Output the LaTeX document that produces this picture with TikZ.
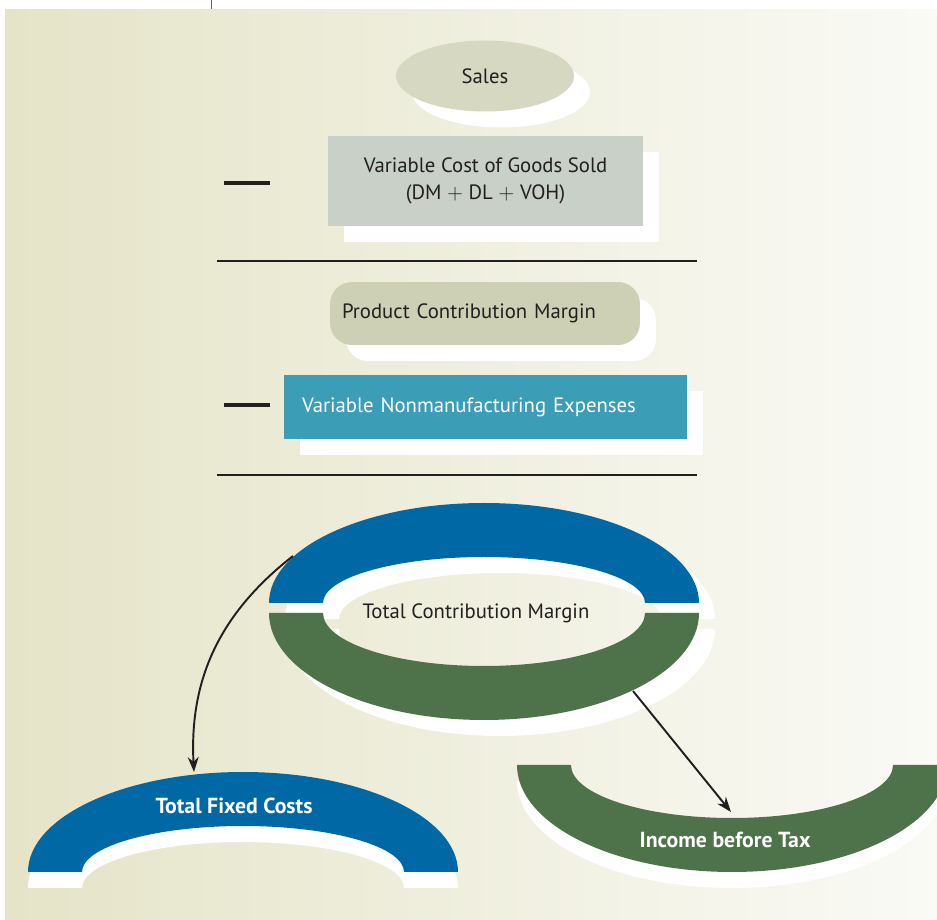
\documentclass[tikz,border=0pt]{standalone}
\usepackage{fontspec}
\setmainfont{PT Sans}
\usetikzlibrary{shapes.geometric}
\usetikzlibrary{shadows}
\usetikzlibrary{arrows.meta}
\pgfdeclarelayer{bglayer}
\pgfdeclarelayer{edgelayer}
\pgfdeclarelayer{nodelayer}
\pgfsetlayers{bglayer,main,edgelayer,nodelayer}
\definecolor{ink}{HTML}{231F20}
\definecolor{paperleft}{HTML}{E5E4C8}
\definecolor{paperright}{HTML}{FAFAF6}
\definecolor{salesfill}{HTML}{D6D8C2}
\definecolor{costfill}{HTML}{C8D0C8}
\definecolor{marginfill}{HTML}{CDD0B5}
\definecolor{expfill}{HTML}{3C9DB6}
\definecolor{ringblue}{HTML}{0068A5}
\definecolor{ringgreen}{HTML}{4E7249}
\tikzstyle{whiteshadow}=[drop shadow={shadow xshift=0.32cm, shadow yshift=-0.32cm, fill=white, opacity=1}]
\tikzstyle{oval}=[ellipse, fill=salesfill, inner sep=0pt, minimum width=3.56cm, minimum height=1.42cm, text=ink, font=\fontsize{11.8}{14}\selectfont, whiteshadow]
\tikzstyle{costbox}=[rectangle, fill=costfill, inner sep=0pt, minimum width=6.3cm, minimum height=1.8cm, align=center, text=ink, font=\fontsize{11.8}{15}\selectfont, whiteshadow]
\tikzstyle{marginbox}=[rectangle, rounded corners=0.44cm, fill=marginfill, inner xsep=0.24cm, inner ysep=0pt, text width=5.72cm, minimum height=1.26cm, align=left, text=ink, font=\fontsize{11.8}{14}\selectfont, whiteshadow]
\tikzstyle{expbox}=[rectangle, fill=expfill, inner xsep=0.36cm, inner ysep=0pt, text width=7.34cm, minimum height=1.28cm, align=left, text=white, font=\fontsize{11.8}{14}\selectfont, whiteshadow]
\tikzstyle{ringlabel}=[inner sep=0pt, text=ink, font=\fontsize{11.8}{14}\selectfont]
\tikzstyle{arclabel}=[inner sep=0pt, text=white, font=\bfseries\fontsize{12.4}{15}\selectfont]
\tikzstyle{minusbar}=[draw=ink, line width=2.3pt]
\tikzstyle{sumrule}=[draw=ink, line width=1.3pt]
\tikzstyle{transition}=[-{Stealth[length=0.3cm, width=0.22cm]}, draw=ink, line width=1.1pt]

\begin{document}
\begin{tikzpicture}[x=0.02cm, y=0.02cm]
	\useasboundingbox (0, 0) rectangle (937, 920);
	\clip (0, 0) rectangle (937, 920);
	\begin{pgfonlayer}{bglayer}
		\shade [left color=paperleft, right color=paperright] (5, 0) rectangle (937, 910);
		\draw [draw=ink!70, line width=0.5pt] (211, 920) -- (211, 911);
	\end{pgfonlayer}
	% contribution ring, white copy first
	\fill [white, shift={(16, -16)}] (269, 317) arc [start angle=180, end angle=0, x radius=215, y radius=100] -- (645, 317) arc [start angle=0, end angle=180, x radius=161, y radius=46] -- cycle;
	\fill [white, shift={(16, -16)}] (269, 307) arc [start angle=180, end angle=360, x radius=215, y radius=107] -- (645, 307) arc [start angle=360, end angle=180, x radius=161, y radius=53] -- cycle;
	\fill [ringblue] (269, 317) arc [start angle=180, end angle=0, x radius=215, y radius=100] -- (645, 317) arc [start angle=0, end angle=180, x radius=161, y radius=46] -- cycle;
	\fill [ringgreen] (269, 307) arc [start angle=180, end angle=360, x radius=215, y radius=107] -- (645, 307) arc [start angle=360, end angle=180, x radius=161, y radius=53] -- cycle;
	% fixed costs arch
	\fill [white, shift={(0, -16)}] (28, 48) arc [start angle=180, end angle=0, x radius=215, y radius=100] -- (404, 48) arc [start angle=0, end angle=180, x radius=161, y radius=46] -- cycle;
	\fill [ringblue] (28, 48) arc [start angle=180, end angle=0, x radius=215, y radius=100] -- (404, 48) arc [start angle=0, end angle=180, x radius=161, y radius=46] -- cycle;
	% income bowl
	\fill [white, shift={(0, -16)}] (517, 155) arc [start angle=180, end angle=360, x radius=215, y radius=107] -- (893, 155) arc [start angle=360, end angle=180, x radius=161, y radius=53] -- cycle;
	\fill [ringgreen] (517, 155) arc [start angle=180, end angle=360, x radius=215, y radius=107] -- (893, 155) arc [start angle=360, end angle=180, x radius=161, y radius=53] -- cycle;
	% minus signs and rules
	\draw [style=minusbar] (224, 737) -- (270, 737);
	\draw [style=sumrule] (217, 659) -- (697, 659);
	\draw [style=minusbar] (224, 515) -- (270, 515);
	\draw [style=sumrule] (217, 445) -- (697, 445);
	\begin{pgfonlayer}{nodelayer}
		\node [style=oval] (0) at (485, 844) {Sales};
		\node [style=costbox] (1) at (485.5, 739) {Variable Cost of Goods Sold\\(DM $+$ DL $+$ VOH)};
		\node [style=marginbox] (2) at (485, 606.5) {Product Contribution Margin};
		\node [style=expbox] (3) at (485.5, 513) {Variable Nonmanufacturing Expenses};
		\node [style=ringlabel] (4) at (476, 307) {Total Contribution Margin};
		\node [style=arclabel] (5) at (234, 114) {Total Fixed Costs};
		\node [style=arclabel] (6) at (725, 80) {Income before Tax};
		\coordinate (7) at (293, 364);
		\coordinate (8) at (194, 148);
		\coordinate (9) at (633, 229);
		\coordinate (10) at (731, 108);
	\end{pgfonlayer}
	\begin{pgfonlayer}{edgelayer}
		\draw [style=transition, out=218, in=93] (7) to (8);
		\draw [style=transition] (9) to (10);
	\end{pgfonlayer}
\end{tikzpicture}
\end{document}
